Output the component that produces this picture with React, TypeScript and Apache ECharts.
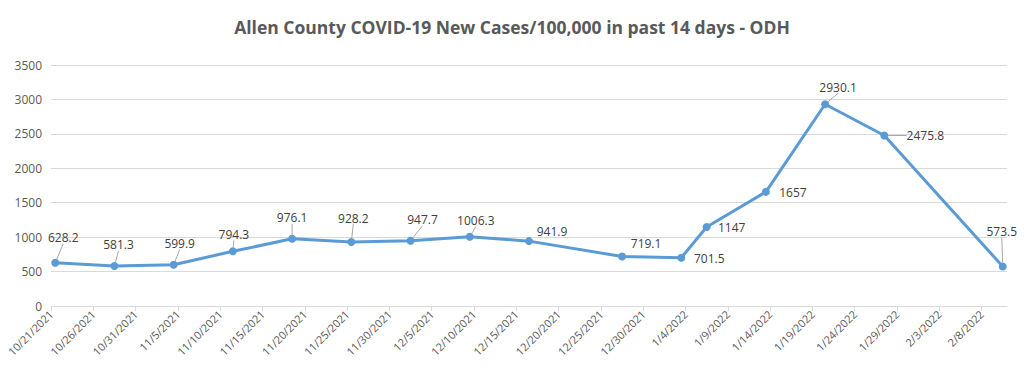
import React, { useEffect, useRef } from "react";
import * as echarts from "echarts";

const titleText = "Allen County COVID-19 New Cases/100,000 in past 14 days - ODH";
const axisStart = "10/21/2021";
const axisEnd = "2/11/2022";
const tickLabels = [
  "10/21/2021", "10/26/2021", "10/31/2021", "11/5/2021", "11/10/2021", "11/15/2021",
  "11/20/2021", "11/25/2021", "11/30/2021", "12/5/2021", "12/10/2021", "12/15/2021",
  "12/20/2021", "12/25/2021", "12/30/2021", "1/4/2022", "1/9/2022", "1/14/2022",
  "1/19/2022", "1/24/2022", "1/29/2022", "2/3/2022", "2/8/2022",
];
const pointDates = [
  "10/21/2021", "10/28/2021", "11/4/2021", "11/11/2021", "11/18/2021", "11/25/2021",
  "12/2/2021", "12/9/2021", "12/16/2021", "12/27/2021", "1/3/2022", "1/6/2022",
  "1/13/2022", "1/20/2022", "1/27/2022", "2/10/2022",
];
const caseRates = [
  628.2, 581.3, 599.9, 794.3, 976.1, 928.2, 947.7, 1006.3, 941.9, 719.1, 701.5,
  1147, 1657, 2930.1, 2475.8, 573.5,
];
const yMin = 0;
const yMax = 3500;
const yInterval = 500;

// label placement (styling only): offset of label centre from its point, and leader flag
const labelOffsets: [number, number][] = [
  [8, -25], [4, -21], [6, -21], [1, -17], [0, -21], [2, -24], [12, -21], [6, -16],
  [23, -10], [24, -13], [28, 1], [25, 0], [27, 1], [13, -17], [41, 0], [-1, -35],
];
const showLeader = [
  true, true, true, true, true, true, true, true,
  false, false, false, false, false, true, true, true,
];

function dayOffset(s: string): number {
  const [m, d, y] = s.split("/").map(Number);
  const [m0, d0, y0] = axisStart.split("/").map(Number);
  return Math.round((Date.UTC(y, m - 1, d) - Date.UTC(y0, m0 - 1, d0)) / 86400000);
}

export default function App() {
  const ref = useRef<HTMLDivElement>(null);
  useEffect(() => {
    document.body.style.margin = "0";
    if (!ref.current) return;
    const chart = echarts.init(ref.current, undefined, { renderer: "svg" });
    const tickValues = tickLabels.map(dayOffset);
    const labelByValue: Record<number, string> = {};
    tickLabels.forEach((t, i) => (labelByValue[tickValues[i]] = t));
    const font = "'Open Sans', 'Noto Sans', sans-serif";
    chart.setOption({
      animation: false,
      backgroundColor: "#ffffff",
      title: {
        text: titleText,
        left: "center",
        top: 13,
        textStyle: { fontFamily: font, fontSize: 17.5, fontWeight: "bold", color: "#595959" },
      },
      grid: { left: 51, right: 17, top: 65, bottom: 68 },
      xAxis: {
        type: "value",
        min: 0,
        max: dayOffset(axisEnd),
        splitLine: { show: false },
        axisLine: { show: true, lineStyle: { color: "#d9d9d9", width: 1 } },
        axisTick: {
          show: true,
          customValues: tickValues,
          length: 5,
          lineStyle: { color: "#d9d9d9" },
        },
        axisLabel: {
          customValues: tickValues,
          rotate: 45,
          margin: 6,
          fontFamily: font,
          fontSize: 11,
          color: "#595959",
          formatter: (v: number) => labelByValue[Math.round(v)] ?? "",
        },
      },
      yAxis: {
        type: "value",
        min: yMin,
        max: yMax,
        interval: yInterval,
        axisLine: { show: false },
        axisTick: { show: false },
        splitLine: { lineStyle: { color: "#d9d9d9", width: 1 } },
        axisLabel: {
          fontFamily: font,
          fontSize: 12,
          color: "#595959",
          margin: 9,
          formatter: (v: number) => String(v),
        },
      },
      series: [
        {
          type: "line",
          data: pointDates.map((d, i) => ({
            value: [dayOffset(d) + 0.5, caseRates[i]],
            labelLine: { show: showLeader[i] },
          })),
          symbol: "circle",
          symbolSize: 8,
          lineStyle: { color: "#5b9bd5", width: 3 },
          itemStyle: { color: "#5b9bd5" },
          label: {
            show: true,
            position: "inside",
            fontFamily: font,
            fontSize: 12,
            color: "#404040",
            formatter: (p: any) => String(p.value[1]),
          },
          labelLine: { show: true, lineStyle: { color: "#a6a6a6", width: 1 } },
          labelLayout: (params: any) => ({
            dx: labelOffsets[params.dataIndex][0],
            dy: labelOffsets[params.dataIndex][1],
          }),
        },
      ],
    });
    return () => chart.dispose();
  }, []);
  return <div ref={ref} style={{ width: 1024, height: 374 }} />;
}
